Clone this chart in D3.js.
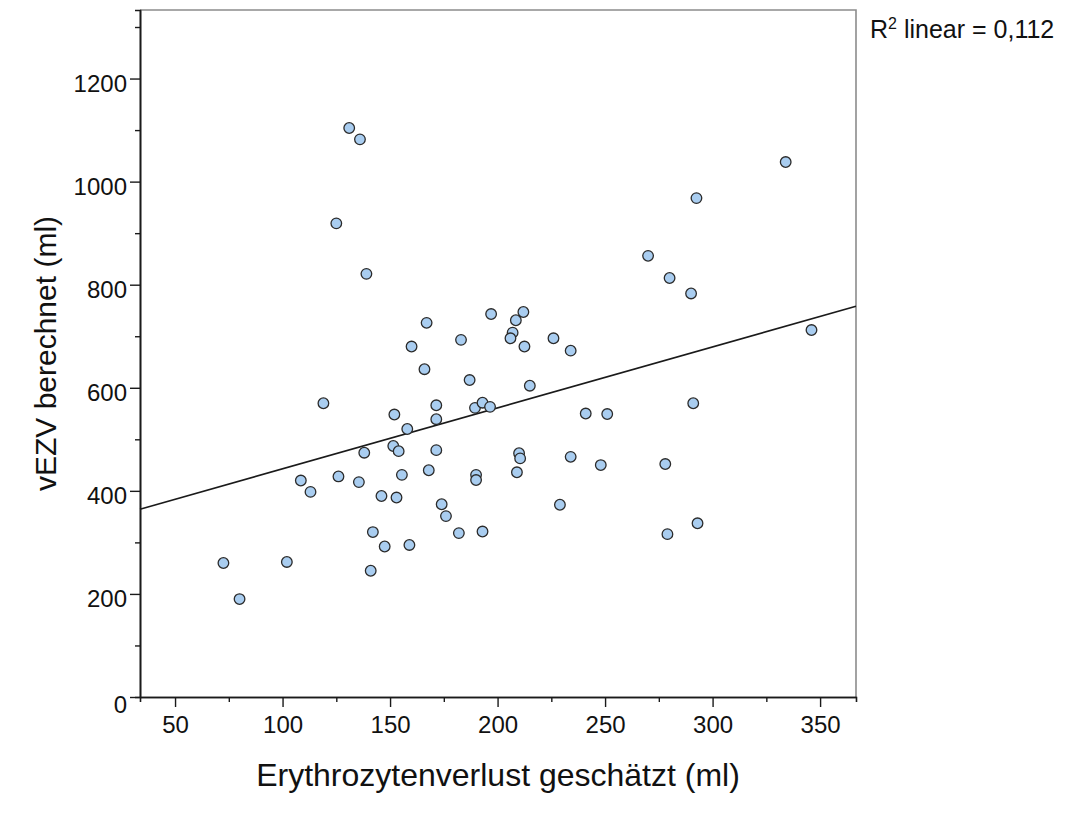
<!DOCTYPE html>
<html>
<head>
<meta charset="utf-8">
<script src="https://cdn.jsdelivr.net/npm/d3@7"></script>
<style>
    body { margin: 0; background: #fff; }
    svg { display: block; font-family: "Liberation Sans", Arial, sans-serif; }
</style>
</head>
<body>
<svg id="canvas" width="1074" height="817"></svg>
<script>
// Erythrozytenverlust geschätzt (ml)
const lossEstimated = [
    131, 136, 125, 139, 167, 197, 183, 160, 166, 187,
    119, 171.5, 189.5, 193, 196.5, 152, 171.5, 158, 138, 151.5,
    154, 171.5, 168, 155.5, 108.5, 126, 135.5, 113, 146, 153,
    190, 190, 174, 176, 182, 193, 142, 147.5, 159, 141,
    102, 72.5, 80,
    334, 292.5, 270, 280, 290, 212, 208.5, 207, 206, 212.5,
    226, 234, 215, 346,
    241, 251, 291, 210, 210.5, 209, 234, 248, 278, 229,
    279, 293
];
// vEZV berechnet (ml)
const vezvCalculated = [
    1104, 1082, 919, 821, 726, 743, 693, 680, 636, 615,
    570, 566, 561, 571, 563, 548, 539, 520, 474, 487,
    477, 479, 440, 431, 420, 428, 417, 398, 390, 387,
    431, 421, 374, 351, 318, 321, 320, 292, 295, 245,
    262, 260, 190,
    1038, 968, 856, 813, 783, 747, 731, 707, 696, 680,
    696, 672, 604, 712,
    550, 549, 570, 473, 463, 436, 466, 450, 452, 373,
    316, 337
];

const xDomain = [33.7, 366.7];
const yDomain = [0, 1333];
const xMajorTicks = [50, 100, 150, 200, 250, 300, 350];
const xMinorTicks = [75, 125, 175, 225, 275, 325];
const yMajorTicks = [0, 200, 400, 600, 800, 1000, 1200];
const yMinorTicks = [100, 300, 500, 700, 900, 1100, 1300];
const rSquaredLabel = '0,112';

const xTitle = 'Erythrozytenverlust geschätzt (ml)';
const yTitle = 'vEZV berechnet (ml)';

function drawChart() {
    const svg = d3.select('#canvas');
    const margin = { left: 140, top: 10, right: 218, bottom: 120 };
    const width = 1074 - margin.left - margin.right;
    const height = 817 - margin.top - margin.bottom;

    const x = d3.scaleLinear().domain(xDomain).range([0, width]);
    const y = d3.scaleLinear().domain(yDomain).range([height, 0]);

    const data = lossEstimated.map((v, i) => ({ x: v, y: vezvCalculated[i] }));

    const g = svg.append('g')
        .attr('transform', `translate(${margin.left},${margin.top})`);

    // frame (top and right in grey)
    g.append('path')
        .attr('d', `M0,0H${width}V${height}`)
        .attr('fill', 'none')
        .attr('stroke', '#8c8c8c')
        .attr('stroke-width', 1.6);

    // minor ticks first, then the major axes on top
    g.append('g')
        .attr('transform', `translate(0,${height})`)
        .call(d3.axisBottom(x).tickValues(xMinorTicks).tickSize(5).tickFormat(''))
        .call(styleAxis);

    g.append('g')
        .call(d3.axisLeft(y).tickValues(yMinorTicks).tickSize(5).tickFormat(''))
        .call(styleAxis);

    const xAxis = g.append('g')
        .attr('transform', `translate(0,${height})`)
        .call(d3.axisBottom(x).tickValues(xMajorTicks).tickSize(10).tickPadding(9)
            .tickSizeOuter(0).tickFormat(d3.format('d')))
        .call(styleAxis);
    xAxis.selectAll('text').attr('dy', '0.71em');

    const yAxis = g.append('g')
        .call(d3.axisLeft(y).tickValues(yMajorTicks).tickSize(10).tickPadding(3)
            .tickSizeOuter(0).tickFormat(d3.format('d')))
        .call(styleAxis);
    yAxis.selectAll('text').attr('dy', d => d === 0 ? '0.66em' : '0.52em');

    // linear fit through the points
    const mx = d3.mean(data, d => d.x);
    const my = d3.mean(data, d => d.y);
    const slope = d3.sum(data, d => (d.x - mx) * (d.y - my)) / d3.sum(data, d => (d.x - mx) ** 2);
    const intercept = my - slope * mx;

    g.append('line')
        .attr('x1', x(xDomain[0]))
        .attr('y1', y(intercept + slope * xDomain[0]))
        .attr('x2', x(xDomain[1]))
        .attr('y2', y(intercept + slope * xDomain[1]))
        .attr('stroke', '#1a1a1a')
        .attr('stroke-width', 1.6);

    g.selectAll('.dot')
        .data(data)
        .enter().append('circle')
            .attr('class', 'dot')
            .attr('cx', d => x(d.x))
            .attr('cy', d => y(d.y))
            .attr('r', 5.3)
            .attr('fill', '#a9cdf0')
            .attr('stroke', '#2b2b2b')
            .attr('stroke-width', 1.3);

    // axis titles
    svg.append('text')
        .attr('x', margin.left + width / 2)
        .attr('y', 786)
        .attr('text-anchor', 'middle')
        .attr('font-size', 32)
        .attr('fill', '#111')
        .text(xTitle);

    svg.append('text')
        .attr('transform', `translate(56,${margin.top + height / 2}) rotate(-90)`)
        .attr('text-anchor', 'middle')
        .attr('font-size', 30)
        .attr('fill', '#111')
        .text(yTitle);

    // R² annotation
    const r2 = svg.append('text')
        .attr('x', 870)
        .attr('y', 38)
        .attr('font-size', 25)
        .attr('fill', '#111');
    r2.append('tspan').text('R');
    r2.append('tspan').attr('font-size', 16).attr('dy', -9).text('2');
    r2.append('tspan').attr('dy', 9).text(` linear = ${rSquaredLabel}`);

    function styleAxis(sel) {
        sel.select('.domain').attr('stroke', '#1a1a1a').attr('stroke-width', 1.6);
        sel.selectAll('.tick line').attr('stroke', '#1a1a1a').attr('stroke-width', 1.4);
        sel.selectAll('.tick text')
            .attr('font-size', 24)
            .attr('font-family', '"Liberation Sans", Arial, sans-serif')
            .attr('fill', '#111');
    }
}

drawChart();
</script>
</body>
</html>
